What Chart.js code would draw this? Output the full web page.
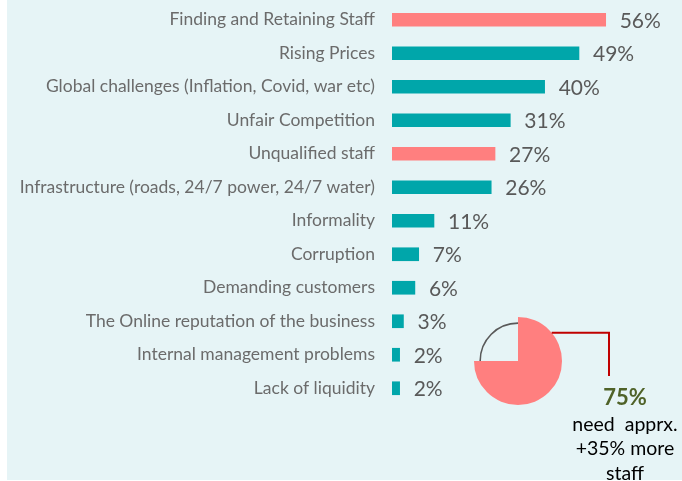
<!DOCTYPE html>
<html><head><meta charset="utf-8">
<script src="https://cdn.jsdelivr.net/npm/chart.js@4.4.1/dist/chart.umd.min.js"></script>
<style>
html,body{margin:0;padding:0;background:#fff;}
#wrap{position:relative;width:682px;height:481px;overflow:hidden;background:#fff;}
#bg{position:absolute;left:7px;top:0;width:675px;height:480px;background:#e6f4f6;}
#main{position:absolute;left:0;top:0;}
#pie{position:absolute;left:418px;top:261px;pointer-events:none;}
.note{position:absolute;left:545px;width:160px;text-align:center;font-family:Lato,sans-serif;color:#000;white-space:pre;height:24px;line-height:24px;font-size:19.5px;}
#n0{font-weight:bold;color:#4f6228;font-size:22px;}
</style></head>
<body>
<div id="wrap">
<div id="bg"></div>
<canvas id="main" width="682" height="481"></canvas>
<canvas id="pie" width="200" height="200"></canvas>
<div class="note" id="n0" style="top:385px"></div>
<div class="note" id="n1" style="top:412px"></div>
<div class="note" id="n2" style="top:436px"></div>
<div class="note" id="n3" style="top:461px"></div>
</div>
<script>
const categories = [
  "Finding and Retaining Staff",
  "Rising Prices",
  "Global challenges (Inflation, Covid, war etc)",
  "Unfair Competition",
  "Unqualified staff",
  "Infrastructure (roads, 24/7 power, 24/7 water)",
  "Informality",
  "Corruption",
  "Demanding customers",
  "The Online reputation of the business",
  "Internal management problems",
  "Lack of liquidity"
];
const values = [56, 49, 40, 31, 27, 26, 11, 7, 6, 3, 2, 2];
const highlighted = ["Finding and Retaining Staff", "Unqualified staff"];
const pieLabels = ["Need more staff", "Other"];
const pieValues = [75, 25];
const noteLines = ["75%", "need  apprx.", "+35% more", "staff"];

const TEAL = '#00a6aa';
const SALMON = '#ff7f7f';

noteLines.forEach((t, i) => { document.getElementById('n' + i).textContent = t; });

const valueLabels = {
  id: 'valueLabels',
  afterDatasetsDraw(chart) {
    const ctx = chart.ctx;
    const meta = chart.getDatasetMeta(0);
    ctx.save();
    ctx.font = '21px Lato, sans-serif';
    ctx.fillStyle = '#595959';
    ctx.textAlign = 'left';
    ctx.textBaseline = 'middle';
    meta.data.forEach((bar, i) => {
      ctx.fillText(values[i] + '%', bar.x + 14, bar.y + 1);
    });
    ctx.restore();
  }
};

new Chart(document.getElementById('main'), {
  type: 'bar',
  data: {
    labels: categories,
    datasets: [{
      data: values,
      backgroundColor: categories.map(c => highlighted.includes(c) ? SALMON : TEAL),
      borderWidth: 0,
      barThickness: 13
    }]
  },
  options: {
    indexAxis: 'y',
    responsive: false,
    animation: false,
    layout: { padding: { top: 3, bottom: 76, left: 0, right: 0 } },
    plugins: { legend: { display: false }, tooltip: { enabled: false } },
    scales: {
      x: { display: false, min: 0, max: 76 },
      y: {
        grid: { display: false, drawTicks: false },
        border: { display: false },
        ticks: { color: '#6b6b6b', font: { family: 'Lato', size: 17.5 }, padding: 17 },
        afterFit(s) { s.width = 392; s.paddingTop = 0; s.paddingBottom = 0; }
      }
    }
  },
  plugins: [valueLabels]
});

const pieDecor = {
  id: 'pieDecor',
  afterDatasetsDraw(chart) {
    const ctx = chart.ctx;
    const arcs = chart.getDatasetMeta(0).data;
    const rest = arcs[1];
    const { x, y, outerRadius, startAngle, endAngle } = rest.getProps(['x', 'y', 'outerRadius', 'startAngle', 'endAngle'], true);
    ctx.save();
    ctx.strokeStyle = '#595959';
    ctx.lineWidth = 1.6;
    ctx.beginPath();
    ctx.arc(x, y, outerRadius * 0.86, startAngle, endAngle);
    ctx.stroke();
    const a = -40 * Math.PI / 180;
    const px = x + outerRadius * Math.cos(a);
    const py = y + outerRadius * Math.sin(a);
    ctx.strokeStyle = '#c00000';
    ctx.lineWidth = 2;
    ctx.beginPath();
    ctx.moveTo(px, py);
    ctx.lineTo(x + 91, py);
    ctx.lineTo(x + 91, y + 15);
    ctx.stroke();
    ctx.restore();
  }
};

new Chart(document.getElementById('pie'), {
  type: 'pie',
  data: {
    labels: pieLabels,
    datasets: [{
      data: pieValues,
      backgroundColor: [SALMON, 'rgba(0,0,0,0)'],
      borderWidth: 0,
      radius: 44
    }]
  },
  options: {
    responsive: false,
    animation: false,
    radius: 44,
    plugins: { legend: { display: false }, tooltip: { enabled: false } }
  },
  plugins: [pieDecor]
});
</script>
</body></html>
